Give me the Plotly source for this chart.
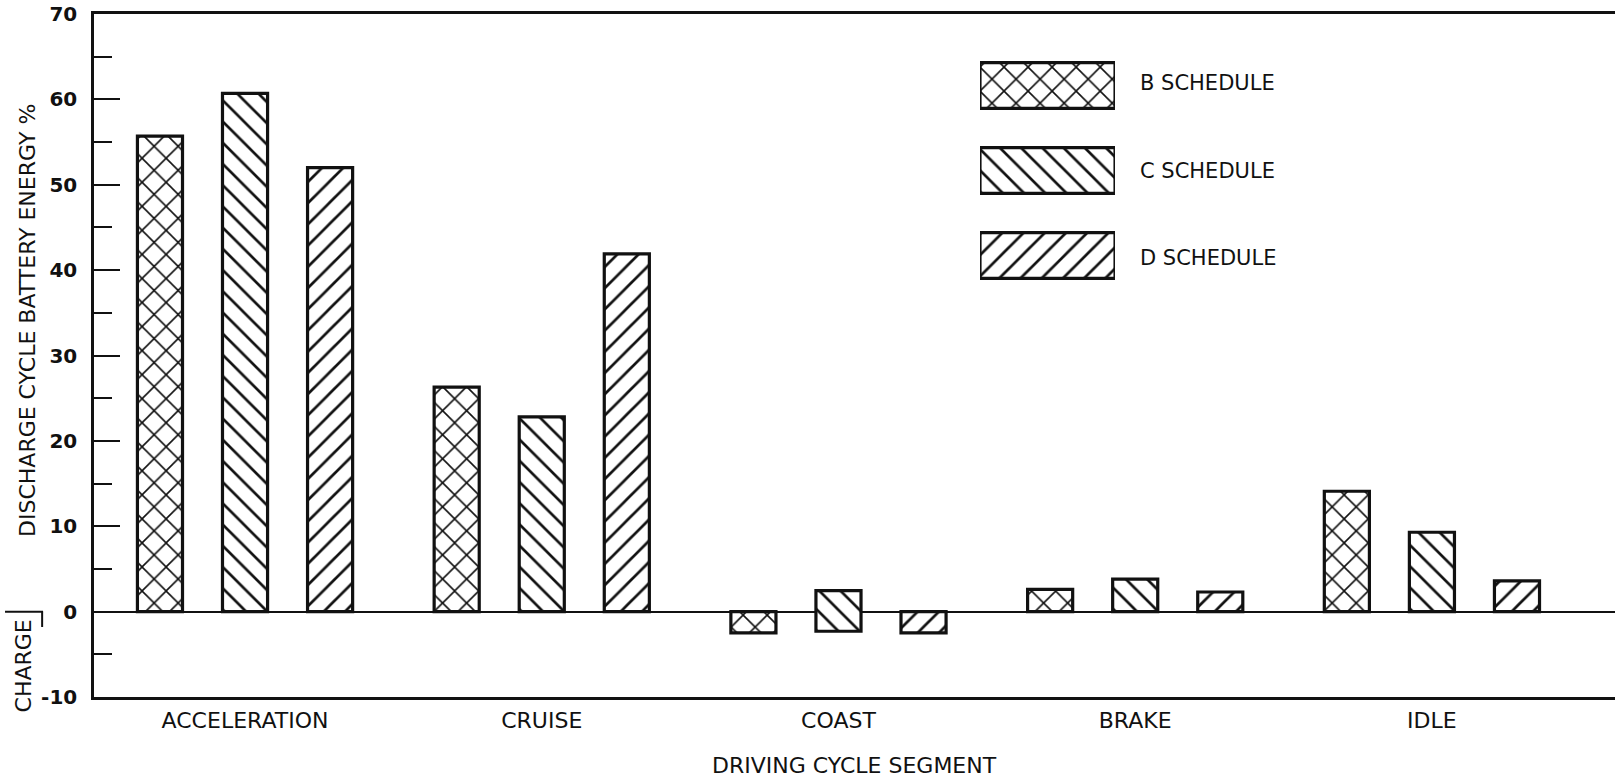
import plotly.graph_objects as go

# Driving cycle segments and share of discharge-cycle battery energy (%)
segments = ["ACCELERATION", "CRUISE", "COAST", "BRAKE", "IDLE"]
b_schedule = [55.7, 26.3, -2.5, 2.6, 14.1]
c_schedule_top = [60.7, 22.8, 2.45, 3.8, 9.3]
c_schedule_bottom = [0, 0, -2.3, 0, 0]
d_schedule = [52.0, 41.9, -2.5, 2.3, 3.6]
schedule_names = ["B SCHEDULE", "C SCHEDULE", "D SCHEDULE"]
hatches = ["x", "\\", "/"]
hatch_sizes = [17, 15, 15]

y_ticks = [-10, 0, 10, 20, 30, 40, 50, 60, 70]
y_tick_labels = ["-10", "0", "10", "20", "30", "40", "50", "60", "70"]

FONT = "DejaVu Sans"
INK = "#111111"


def hatch(shape, size):
    return dict(shape=shape, fgcolor=INK, bgcolor="white", size=size,
                solidity=0.18, fillmode="replace")


c_heights = [t - b for t, b in zip(c_schedule_top, c_schedule_bottom)]
series = [
    (schedule_names[0], b_schedule, [0] * len(segments)),
    (schedule_names[1], c_heights, c_schedule_bottom),
    (schedule_names[2], d_schedule, [0] * len(segments)),
]

fig = go.Figure()
for (name, vals, base), shape, size in zip(series, hatches, hatch_sizes):
    fig.add_trace(go.Bar(
        x=segments, y=vals, base=base, name=name,
        marker=dict(color="white", pattern=hatch(shape, size),
                    line=dict(color=INK, width=3.2)),
        showlegend=False, hoverinfo="skip",
    ))

# Key: one hatched swatch per schedule on its own small axis pair
KEY_X = [0.5825, 0.6713]
KEY_Y = [0.5842, 0.9575]
for i, (name, shape, size) in enumerate(zip(schedule_names, hatches, hatch_sizes)):
    fig.add_trace(go.Bar(
        x=[1], y=[i], orientation="h", width=0.54,
        marker=dict(color="white", pattern=hatch(shape, size),
                    line=dict(color=INK, width=3.2)),
        xaxis="x3", yaxis="y3", showlegend=False, hoverinfo="skip",
    ))
    slot_center = KEY_Y[1] - (i + 0.5) * (KEY_Y[1] - KEY_Y[0]) / 3
    fig.add_annotation(x=0.6862, y=slot_center + 0.004 * (1 - i),
                       xref="paper", yref="paper",
                       text=name, showarrow=False,
                       xanchor="left", yanchor="middle",
                       font=dict(family=FONT, size=21, color=INK))

fig.update_layout(
    width=1615, height=781,
    margin=dict(l=94, r=0, t=14, b=84),
    paper_bgcolor="white", plot_bgcolor="white",
    barmode="group", bargap=0.14, bargroupgap=0.47,
    xaxis=dict(
        type="category", range=[-0.509, 4.617],
        showline=True, mirror=True, linecolor=INK, linewidth=2.5,
        ticks="", showgrid=False, zeroline=False,
        tickfont=dict(family=FONT, size=22, color=INK),
        ticklabelstandoff=2,
    ),
    yaxis=dict(
        range=[-10, 70], tickvals=y_ticks, ticktext=y_tick_labels,
        showline=True, linecolor=INK, linewidth=2.5,
        ticks="inside", ticklen=26, tickwidth=2, tickcolor=INK,
        minor=dict(dtick=5, ticks="inside", ticklen=18, tickwidth=2,
                   tickcolor=INK, showgrid=False),
        showgrid=False,
        zeroline=True, zerolinecolor=INK, zerolinewidth=1.8,
        tickfont=dict(family=FONT, size=20, color=INK, weight="bold"),
        ticklabelstandoff=10,
    ),
    yaxis2=dict(
        overlaying="y", side="right", anchor="x", range=[-10, 70],
        dtick=5, tick0=0, ticks="inside", ticklen=12, tickwidth=2,
        tickcolor=INK, showticklabels=False, showline=False,
        showgrid=False, zeroline=False,
    ),
    xaxis3=dict(domain=KEY_X, anchor="y3", range=[0, 1],
                visible=False, fixedrange=True),
    yaxis3=dict(domain=KEY_Y, anchor="x3", range=[2.5, -0.5],
                visible=False, fixedrange=True),
    showlegend=False,
)

# Axis titles
fig.add_annotation(x=0.5, y=-0.0996, xref="paper", yref="paper",
                   text="DRIVING CYCLE SEGMENT", showarrow=False,
                   xanchor="center", yanchor="middle",
                   font=dict(family=FONT, size=22, color=INK))
fig.add_annotation(x=-0.0434, y=0.552, xref="paper", yref="paper",
                   text="DISCHARGE CYCLE BATTERY ENERGY %", textangle=-90,
                   showarrow=False, xanchor="center", yanchor="middle",
                   font=dict(family=FONT, size=22, color=INK))
fig.add_annotation(x=-0.0457, y=0.0454, xref="paper", yref="paper",
                   text="CHARGE", textangle=-90, showarrow=False,
                   xanchor="center", yanchor="middle",
                   font=dict(family=FONT, size=22, color=INK))

# Bracket marking the charge side of the zero line
fig.add_shape(type="line", xref="paper", yref="y", x0=-0.0585, x1=-0.0335,
              y0=0, y1=0, line=dict(color=INK, width=2))
fig.add_shape(type="line", xref="paper", yref="y", x0=-0.0341, x1=-0.0341,
              y0=0, y1=-1.8, line=dict(color=INK, width=2))

fig.write_html("out.html")
